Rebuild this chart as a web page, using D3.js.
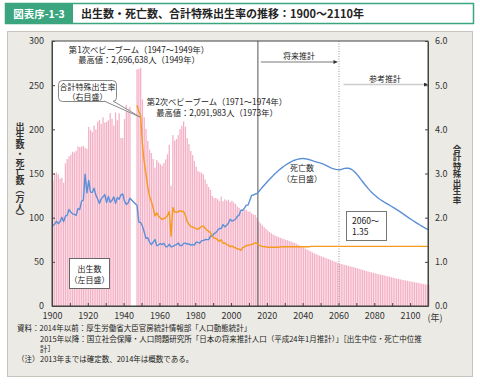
<!DOCTYPE html>
<html>
<head>
<meta charset="utf-8">
<script src="https://cdn.jsdelivr.net/npm/d3@7"></script>
<style>
  body { margin: 0; background: #fff; }
  svg { display: block; font-family: "Noto Sans CJK JP", "Noto Sans", sans-serif; }
</style>
</head>
<body>
<svg width="480" height="385"></svg>
<script>
// 出生数（万人）1900〜2110年, 1944〜1946年は資料なし
const firstYear = 1900;
const births = [
  142.1, 150.1, 151.0, 148.9, 144.0, 145.2, 139.5, 161.5, 166.3, 169.3,
  171.2, 174.7, 173.7, 175.7, 180.8, 179.9, 180.4, 181.3, 179.2, 177.9,
  202.6, 199.1, 196.9, 204.3, 199.8, 208.6, 210.5, 206.1, 213.6, 207.7,
  208.5, 210.3, 218.3, 212.1, 204.4, 219.1, 210.2, 218.1, 190.3, 190.2,
  211.6, 227.7, 223.4, 225.4, null, null, null, 267.9, 268.2, 269.7,
  233.8, 213.8, 200.5, 186.8, 177.0, 173.1, 166.5, 156.7, 165.3, 162.6,
  160.6, 158.9, 161.9, 166.0, 171.7, 182.4, 136.1, 193.5, 187.2, 189.0,
  193.4, 200.1, 203.9, 209.2, 203.0, 190.1, 183.3, 175.5, 170.9, 164.3,
  157.7, 152.9, 151.5, 150.9, 149.0, 143.2, 138.3, 134.7, 131.4, 124.7,
  122.2, 122.3, 120.9, 118.8, 123.8, 118.7, 120.7, 119.2, 120.3, 117.8,
  119.1, 117.1, 115.4, 112.4, 111.1, 106.3, 109.3, 109.0, 109.1, 107.0,
  107.1, 105.1, 103.7, 103.0, 100.1, 95.5, 93.5, 91.3, 89.2, 87.2,
  85.4, 83.8, 82.3, 81.0, 79.9, 78.9, 78.0, 77.2, 76.5, 75.8,
  75.0, 74.4, 73.7, 73.0, 72.2, 71.3, 70.4, 69.4, 68.4, 67.3,
  66.2, 65.1, 63.9, 62.8, 61.7, 60.6, 59.6, 58.7, 57.8, 57.0,
  56.2, 55.4, 54.6, 53.8, 53.0, 52.2, 51.4, 50.6, 49.8, 49.0,
  48.2, 47.6, 47.0, 46.5, 46.0, 45.5, 45.0, 44.4, 43.9, 43.3,
  42.7, 42.1, 41.5, 40.9, 40.3, 39.7, 39.1, 38.5, 38.0, 37.5,
  37.0, 36.5, 36.0, 35.5, 35.1, 34.6, 34.1, 33.6, 33.1, 32.6,
  32.1, 31.6, 31.1, 30.6, 30.2, 29.7, 29.3, 28.9, 28.5, 28.1,
  27.7, 27.3, 26.9, 26.5, 26.1, 25.7, 25.3, 24.9, 24.5, 24.1, 23.7
];

// 死亡数（万人）1900〜2110年
const deaths = [
  91.0, 92.6, 95.9, 93.2, 95.5, 100.4, 95.5, 101.7, 102.9, 109.2,
  106.4, 104.3, 103.7, 102.7, 110.2, 109.3, 118.7, 119.9, 149.3, 128.1,
  142.2, 128.9, 128.6, 133.3, 125.5, 121.1, 116.1, 121.4, 123.6, 126.1,
  117.1, 124.1, 117.5, 119.4, 123.5, 116.2, 123.0, 120.8, 125.9, 126.8,
  118.7, 115.0, 116.6, 121.9, null, null, null, 113.8, 95.0, 94.5,
  90.5, 83.8, 76.5, 77.3, 72.1, 69.4, 72.4, 75.2, 68.4, 69.0,
  70.7, 69.6, 71.0, 67.1, 67.3, 70.0, 67.0, 67.5, 68.6, 69.4,
  71.3, 68.5, 68.3, 70.9, 71.1, 70.2, 70.3, 69.0, 69.6, 69.0,
  72.3, 72.0, 71.2, 74.0, 74.0, 75.2, 75.1, 75.1, 79.3, 78.9,
  82.0, 83.0, 85.7, 87.9, 87.6, 92.2, 89.6, 91.3, 93.6, 98.2,
  96.2, 97.0, 98.2, 101.5, 102.9, 108.4, 108.4, 110.8, 114.2, 114.2,
  119.7, 125.3, 125.6, 126.8, 127.3, 129.7, 132.0, 134.4, 136.7, 139.0,
  141.2, 143.4, 145.5, 147.6, 149.6, 151.5, 153.3, 155.0, 156.6, 158.2,
  159.6, 160.9, 162.1, 163.2, 164.2, 165.0, 165.7, 166.3, 166.7, 166.9,
  166.9, 166.7, 166.3, 165.8, 165.2, 164.5, 163.8, 163.2, 162.6, 162.0,
  161.4, 160.6, 159.7, 158.7, 157.7, 156.7, 155.9, 155.2, 154.7, 154.4,
  154.3, 154.6, 155.2, 155.8, 156.1, 156.0, 155.4, 154.3, 152.8, 150.8,
  148.5, 146.0, 143.4, 140.7, 138.1, 135.6, 133.2, 130.9, 128.8, 126.8,
  125.0, 123.3, 121.7, 120.3, 119.0, 117.7, 116.5, 115.3, 114.1, 112.9,
  111.7, 110.5, 109.2, 107.9, 106.5, 105.1, 103.7, 102.3, 100.9, 99.5,
  98.2, 96.8, 95.5, 94.2, 92.9, 91.7, 90.5, 89.3, 88.2, 87.1, 86.0
];

// 合計特殊出生率 1947〜2110年
const tfrFirstYear = 1947;
const tfr = [
  4.54, 4.40, 4.32,
  3.65, 3.26, 2.98, 2.69, 2.48, 2.37, 2.22, 2.04, 2.11, 2.04,
  2.00, 1.96, 1.98, 2.00, 2.05, 2.14, 1.58, 2.23, 2.13, 2.13,
  2.13, 2.16, 2.14, 2.14, 2.05, 1.91, 1.85, 1.80, 1.79, 1.77,
  1.75, 1.74, 1.77, 1.80, 1.81, 1.76, 1.72, 1.69, 1.66, 1.57,
  1.54, 1.53, 1.50, 1.46, 1.50, 1.42, 1.43, 1.39, 1.38, 1.34,
  1.36, 1.33, 1.32, 1.29, 1.29, 1.26, 1.32, 1.34, 1.37, 1.37,
  1.39, 1.39, 1.41, 1.43, 1.42, 1.38, 1.36, 1.35, 1.34, 1.34,
  1.33, 1.33, 1.33, 1.33, 1.33, 1.33, 1.33, 1.34, 1.34, 1.34,
  1.34, 1.34, 1.34, 1.34, 1.34, 1.34, 1.34, 1.34, 1.34, 1.34,
  1.34, 1.34, 1.34, 1.34, 1.35, 1.35, 1.35, 1.35, 1.35, 1.35,
  1.35, 1.35, 1.35, 1.35, 1.35, 1.35, 1.35, 1.35, 1.35, 1.35,
  1.35, 1.35, 1.35, 1.35, 1.35, 1.35, 1.35, 1.35, 1.35, 1.35,
  1.35, 1.35, 1.35, 1.35, 1.35, 1.35, 1.35, 1.35, 1.35, 1.35,
  1.35, 1.35, 1.35, 1.35, 1.35, 1.35, 1.35, 1.35, 1.35, 1.35,
  1.35, 1.35, 1.35, 1.35, 1.35, 1.35, 1.35, 1.35, 1.35, 1.35,
  1.35, 1.35, 1.35, 1.35, 1.35, 1.35, 1.35, 1.35, 1.35, 1.35, 1.35
];

const leftTicks = [0, 50, 100, 150, 200, 250, 300];
const rightTicks = [0, 1, 2, 3, 4, 5, 6];
const yearTicks = [1900, 1910, 1920, 1930, 1940, 1950, 1960, 1970, 1980, 1990, 2000,
  2010, 2020, 2030, 2040, 2050, 2060, 2070, 2080, 2090, 2100, 2110];
const yearLabels = [1900, 1920, 1940, 1960, 1980, 2000, 2020, 2040, 2060, 2080, 2100];

const birthData = births.map((v, i) => ({ year: firstYear + i, value: v }));
const deathData = deaths.map((v, i) => ({ year: firstYear + i, value: v }));
const tfrData = tfr.map((v, i) => ({ year: tfrFirstYear + i, value: v }));

const green = '#3aa57f';
const svg = d3.select('svg');

// 見出し
svg.append('rect')
  .attr('x', 5.5).attr('y', 3.5).attr('width', 468).attr('height', 20)
  .attr('fill', '#fff').attr('stroke', green).attr('stroke-width', 1.5);
svg.append('rect')
  .attr('x', 5).attr('y', 3).attr('width', 68).attr('height', 21)
  .attr('fill', green);
svg.append('text')
  .attr('x', 39).attr('y', 17.5).attr('text-anchor', 'middle')
  .attr('fill', '#fff').attr('font-size', 10.5).attr('font-weight', 'bold')
  .text('図表序-1-3');
svg.append('text')
  .attr('x', 81).attr('y', 17.5)
  .attr('fill', '#222').attr('font-size', 11).attr('font-weight', 'bold')
  .text('出生数・死亡数、合計特殊出生率の推移：1900〜2110年');

// 背景パネル
svg.append('rect')
  .attr('x', 7.5).attr('y', 31.5).attr('width', 465).attr('height', 345)
  .attr('fill', '#ebeae4').attr('stroke', '#c6c4bd');

const margin = { left: 52, right: 428, top: 41, bottom: 306 };

const x = d3.scaleLinear().domain([1900, 2110]).range([margin.left, margin.right]);
const yL = d3.scaleLinear().domain([0, 300]).range([margin.bottom, margin.top]);
const yR = d3.scaleLinear().domain([0, 6]).range([margin.bottom, margin.top]);
const step = x(1901) - x(1900);

svg.append('rect')
  .attr('x', margin.left).attr('y', margin.top)
  .attr('width', margin.right - margin.left).attr('height', margin.bottom - margin.top)
  .attr('fill', '#fff');

// 出生数の棒
svg.append('g')
  .selectAll('rect')
  .data(birthData.filter(d => d.value !== null))
  .join('rect')
  .attr('x', d => x(d.year) + step * 0.15)
  .attr('width', step * 0.72)
  .attr('y', d => yL(d.value))
  .attr('height', d => yL(0) - yL(d.value))
  .attr('fill', '#f4b1c6');

// 区切り線
svg.append('line')
  .attr('x1', x(2015)).attr('x2', x(2015))
  .attr('y1', margin.top).attr('y2', margin.bottom)
  .attr('stroke', '#555').attr('stroke-width', 1);
svg.append('line')
  .attr('x1', x(2060) + 0.5).attr('x2', x(2060) + 0.5)
  .attr('y1', margin.top).attr('y2', margin.bottom)
  .attr('stroke', '#999').attr('stroke-width', 1).attr('stroke-dasharray', '1,1.5');

// 死亡数の線
const lineL = d3.line()
  .x(d => x(d.year) + step / 2)
  .y(d => yL(d.value));
svg.append('path')
  .datum(deathData.filter(d => d.value !== null))
  .attr('d', lineL)
  .attr('fill', 'none').attr('stroke', '#5b8fd8').attr('stroke-width', 1.4)
  .attr('stroke-linejoin', 'round');

// 合計特殊出生率の線
const lineR = d3.line()
  .x(d => x(d.year) + step / 2)
  .y(d => yR(d.value));
svg.append('path')
  .datum(tfrData)
  .attr('d', lineR)
  .attr('fill', 'none').attr('stroke', '#f59a1c').attr('stroke-width', 1.4)
  .attr('stroke-linejoin', 'round');

// 軸
const tickFont = g => g.selectAll('text')
  .attr('font-size', 9).attr('fill', '#333')
  .attr('font-family', '"Noto Sans CJK JP", sans-serif');

svg.append('g')
  .attr('transform', `translate(${margin.left},0)`)
  .call(d3.axisLeft(yL).tickValues(leftTicks).tickSize(-3).tickPadding(8).tickSizeOuter(0))
  .call(tickFont);

svg.append('g')
  .attr('transform', `translate(${margin.right},0)`)
  .call(d3.axisRight(yR).tickValues(rightTicks).tickSize(-3).tickPadding(7).tickSizeOuter(0)
    .tickFormat(d3.format('.1f')))
  .call(tickFont);

svg.append('g')
  .attr('transform', `translate(0,${margin.bottom})`)
  .call(d3.axisBottom(x).tickValues(yearTicks).tickSize(-3).tickPadding(7).tickSizeOuter(0)
    .tickFormat(d => yearLabels.includes(d) ? d : ''))
  .call(tickFont);

svg.selectAll('.domain').attr('stroke', '#444');
svg.selectAll('.tick line').attr('stroke', '#444');

svg.append('rect')
  .attr('x', margin.left).attr('y', margin.top)
  .attr('width', margin.right - margin.left).attr('height', margin.bottom - margin.top)
  .attr('fill', 'none').attr('stroke', '#444');

svg.append('text')
  .attr('x', 435).attr('y', 320.5).attr('text-anchor', 'middle')
  .attr('font-size', 9).attr('fill', '#333')
  .text('(年)');

// 軸タイトル
svg.append('text')
  .attr('x', 20).attr('y', 172).attr('text-anchor', 'middle')
  .style('writing-mode', 'vertical-rl')
  .attr('font-size', 9).attr('font-weight', 'bold').attr('fill', '#333')
  .text('出生数・死亡数（万人）');
svg.append('text')
  .attr('x', 457).attr('y', 174).attr('text-anchor', 'middle')
  .style('writing-mode', 'vertical-rl')
  .attr('font-size', 8.5).attr('font-weight', 'bold').attr('fill', '#333')
  .text('合計特殊出生率');

// 注記
const note = (tx, ty, str, anchor = 'middle', size = 8.3) =>
  svg.append('text')
    .attr('x', tx).attr('y', ty).attr('text-anchor', anchor)
    .attr('font-size', size).attr('fill', '#222')
    .text(str);

note(139, 52.5, '第1次ベビーブーム（1947〜1949年）');
note(139, 63, '最高値：2,696,638人（1949年）');
note(217, 104.5, '第2次ベビーブーム（1971〜1974年）');
note(217, 115.5, '最高値：2,091,983人（1973年）');

// 合計特殊出生率の吹き出し
svg.append('rect')
  .attr('x', 58.5).attr('y', 80.5).attr('width', 58).attr('height', 21).attr('rx', 4)
  .attr('fill', '#fff').attr('stroke', '#888');
svg.append('path')
  .attr('d', 'M104,101 L140,117 L113,101')
  .attr('fill', '#fff').attr('stroke', '#888');
note(87.5, 90, '合計特殊出生率', 'middle', 8);
note(87.5, 99.5, '（右目盛）', 'middle', 8);

// 出生数ラベル
svg.append('rect')
  .attr('x', 69.5).attr('y', 258.5).attr('width', 40).attr('height', 30)
  .attr('fill', '#fff').attr('stroke', '#666');
note(89.5, 272, '出生数', 'middle', 8);
note(89.5, 283, '（左目盛）', 'middle', 8);

// 死亡数ラベル
note(302, 171, '死亡数', 'middle', 8);
note(302, 182, '（左目盛）', 'middle', 8);

// 2060〜 1.35
svg.append('rect')
  .attr('x', 346.5).attr('y', 211.5).attr('width', 40).attr('height', 29)
  .attr('fill', '#fff').attr('stroke', '#777');
note(352, 224, '2060〜', 'start', 8.5);
note(352, 235, '1.35', 'start', 8.5);

// 推計区分の矢印
svg.append('defs').append('marker')
  .attr('id', 'arr').attr('viewBox', '0 0 6 6').attr('refX', 6).attr('refY', 3)
  .attr('markerWidth', 4).attr('markerHeight', 4).attr('orient', 'auto')
  .attr('markerUnits', 'userSpaceOnUse')
  .append('path').attr('d', 'M0,0 L6,3 L0,6 Z').attr('fill', '#333');

note(299, 58.5, '将来推計', 'middle', 8);
svg.append('line')
  .attr('x1', x(2015) + 3).attr('x2', x(2060) - 1)
  .attr('y1', 62).attr('y2', 62)
  .attr('stroke', '#555').attr('stroke-width', 0.8)
  .attr('marker-end', 'url(#arr)');

note(385, 81.5, '参考推計', 'middle', 8);
svg.append('line')
  .attr('x1', x(2060) + 5).attr('x2', margin.right)
  .attr('y1', 84.5).attr('y2', 84.5)
  .attr('stroke', '#ccc').attr('stroke-width', 1.5)
  .attr('marker-end', 'url(#arr)');

// 資料・注
note(17, 331, '資料：2014年以前：厚生労働省大臣官房統計情報部「人口動態統計」', 'start', 7.5);
note(40, 342, '2015年以降：国立社会保障・人口問題研究所「日本の将来推計人口（平成24年1月推計）」［出生中位・死亡中位推', 'start', 7.5);
note(40, 351.5, '計］', 'start', 7.5);
note(17, 362, '（注）', 'start', 7.5);
note(40, 362, '2013年までは確定数、2014年は概数である。', 'start', 7.5);
</script>
</body>
</html>
